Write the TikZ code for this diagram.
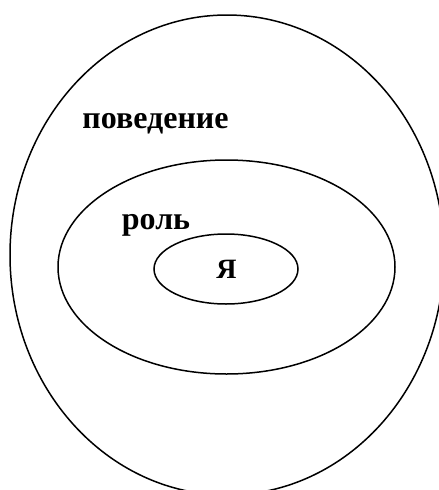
\documentclass[tikz,border=0pt]{standalone}
\usepackage{fontspec}
\setmainfont{Liberation Serif}
\usepackage{tikz}
\usetikzlibrary{shapes.geometric}

\begin{document}
\begin{tikzpicture}[x=1pt, y=-1pt,
    zone/.style={draw, ellipse, line width=1.5pt, inner sep=0pt},
    lbl/.style={font=\bfseries\fontsize{32}{38}\selectfont, anchor=base}]
    \useasboundingbox (0,0) rectangle (439,490);
    \clip (0,0) rectangle (439,490);

    \node[zone, minimum width=434pt, minimum height=480pt] (behav) at (227,255) {};
    \node[zone, minimum width=337pt, minimum height=214pt] (role) at (226.5,267) {};
    \node[zone, minimum width=144pt, minimum height=70pt] (self) at (226,269) {};

    \node[lbl] (behavtext) at (155.5,128) {поведение};
    \node[lbl] (roletext) at (156,229) {роль};
    \node[lbl, font=\bfseries\fontsize{28}{32}\selectfont] (selftext) at (226.5,278) {Я};
\end{tikzpicture}
\end{document}
